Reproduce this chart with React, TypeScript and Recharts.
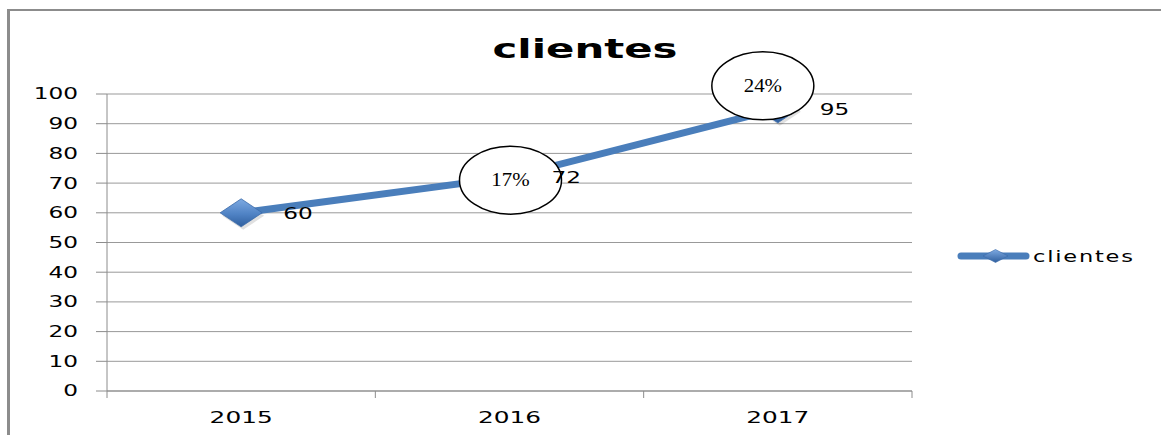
import React from 'react'
import { LineChart, Line, XAxis, YAxis, CartesianGrid, LabelList, ReferenceDot } from 'recharts'

const years = ['2015', '2016', '2017']
const clientes = [60, 72, 95]
const growth = ['', '17%', '24%']
const yTicks = [0, 10, 20, 30, 40, 50, 60, 70, 80, 90, 100]

const data = years.map((year, i) => ({ year, clientes: clientes[i] }))

const W = 1161
const H = 435
const PLOT_LEFT = 107
const PLOT_RIGHT = 912
const PLOT_TOP = 94
const PLOT_BOTTOM = 391
const BAND = (PLOT_RIGHT - PLOT_LEFT) / years.length
const AXIS = '#8c8c8c'
const LINE = '#4a7ebb'
const FONT = '"DejaVu Sans", Verdana, sans-serif'

// growth bubble offsets from the point they belong to
const bubbleShift: Record<string, [number, number]> = { '2016': [1, 3], '2017': [-15, -23] }

function Diamond({ cx, cy, w, h }: { cx: number; cy: number; w: number; h: number }) {
  return (
    <g>
      <polygon
        points={`${cx - w / 2 + 2},${cy + 3} ${cx + 2},${cy - h / 2 + 3} ${cx + w / 2 + 2},${cy + 3} ${cx + 2},${cy + h / 2 + 3}`}
        fill="#000"
        opacity={0.12}
      />
      <polygon
        points={`${cx - w / 2},${cy} ${cx},${cy - h / 2} ${cx + w / 2},${cy} ${cx},${cy + h / 2}`}
        fill="url(#diamondFill)"
        stroke="#3a6aa8"
        strokeWidth={0.8}
      />
    </g>
  )
}

function YTick({ x, y, payload }: any) {
  return (
    <text transform={`translate(${x},${y}) scale(1.55,1)`} textAnchor="end" dy="0.36em" fontSize={15} fontFamily={FONT} fill="#000">
      {payload.value}
    </text>
  )
}

function XTick({ x, y, payload, index }: any) {
  const last = index === years.length - 1
  return (
    <g>
      <line x1={x - BAND / 2} y1={y} x2={x - BAND / 2} y2={y + 7} stroke={AXIS} />
      {last && <line x1={x + BAND / 2} y1={y} x2={x + BAND / 2} y2={y + 7} stroke={AXIS} />}
      <text transform={`translate(${x},${y + 32}) scale(1.55,1)`} textAnchor="middle" fontSize={16} fontFamily={FONT} fill="#000">
        {payload.value}
      </text>
    </g>
  )
}

function ValueLabel({ x, y, value }: any) {
  return (
    <text transform={`translate(${x + 42},${y + 6}) scale(1.45,1)`} fontSize={16} fontFamily={FONT} fill="#000">
      {value}
    </text>
  )
}

function Bubble({ cx, cy, text, year }: any) {
  const [dx, dy] = bubbleShift[year] || [0, 0]
  const bx = cx + dx
  const by = cy + dy
  return (
    <g>
      <ellipse cx={bx} cy={by} rx={51} ry={34} fill="#fff" stroke="#000" strokeWidth={1.5} />
      <text transform={`translate(${bx},${by + 6}) scale(1.1,1)`} textAnchor="middle" fontSize={19} fontFamily='"Liberation Serif", "Times New Roman", serif' fill="#000">
        {text}
      </text>
    </g>
  )
}

export default function App() {
  return (
    <div style={{ position: 'absolute', left: 0, top: 0, width: W, height: H, overflow: 'hidden', background: '#fff' }}>
      <div
        style={{
          position: 'absolute',
          left: 7,
          top: 9,
          width: W,
          height: H,
          borderLeft: `3px solid ${AXIS}`,
          borderTop: `2px solid ${AXIS}`,
        }}
      />
      <div style={{ position: 'absolute', left: 0, top: 0 }}>
        <LineChart
          width={W}
          height={H}
          data={data}
          margin={{ top: PLOT_TOP, right: W - PLOT_RIGHT, bottom: H - PLOT_BOTTOM - 30, left: 0 }}
        >
          <defs>
            <linearGradient id="diamondFill" x1="0" y1="0" x2="0" y2="1">
              <stop offset="0%" stopColor="#7eaae2" />
              <stop offset="55%" stopColor="#4f82c4" />
              <stop offset="100%" stopColor="#2f5f9e" />
            </linearGradient>
          </defs>
          <CartesianGrid vertical={false} stroke="#999" strokeWidth={1} />
          <XAxis
            dataKey="year"
            scale="band"
            height={30}
            tickSize={0}
            tickMargin={0}
            tickLine={false}
            axisLine={{ stroke: AXIS }}
            tick={<XTick />}
            interval={0}
          />
          <YAxis
            width={PLOT_LEFT}
            domain={[0, 100]}
            ticks={yTicks}
            interval={0}
            tickSize={11}
            tickMargin={18}
            tickLine={{ stroke: AXIS }}
            axisLine={{ stroke: AXIS }}
            tick={<YTick />}
          />
          <Line
            dataKey="clientes"
            stroke={LINE}
            strokeWidth={7}
            isAnimationActive={false}
            dot={(p: any) => <Diamond key={p.index} cx={p.cx} cy={p.cy} w={42} h={28} />}
            activeDot={false}
          >
            <LabelList dataKey="clientes" content={<ValueLabel />} />
          </Line>
          {years.map((year, i) =>
            growth[i] ? (
              <ReferenceDot
                key={year}
                x={year}
                y={clientes[i]}
                r={1}
                ifOverflow="visible"
                shape={(p: any) => <Bubble cx={p.cx} cy={p.cy} text={growth[i]} year={year} />}
              />
            ) : null
          )}
        </LineChart>
      </div>
      <svg width={W} height={H} style={{ position: 'absolute', left: 0, top: 0, pointerEvents: 'none' }}>
        <defs>
          <linearGradient id="legendFill" x1="0" y1="0" x2="0" y2="1">
            <stop offset="0%" stopColor="#7eaae2" />
            <stop offset="100%" stopColor="#2f5f9e" />
          </linearGradient>
        </defs>
        <text transform="translate(585,58) scale(1.55,1)" textAnchor="middle" fontSize={27} fontWeight="bold" fontFamily={FONT} fill="#000">
          clientes
        </text>
        <line x1={961} y1={256} x2={1026} y2={256} stroke={LINE} strokeWidth={7} strokeLinecap="round" />
        <polygon points="983,256 995.5,249.5 1008,256 995.5,262.5" fill="url(#legendFill)" stroke="#3a6aa8" strokeWidth={0.6} />
        <text transform="translate(1033,262) scale(1.5,1)" fontSize={15} letterSpacing={1.2} fontFamily={FONT} fill="#000">
          clientes
        </text>
      </svg>
    </div>
  )
}
